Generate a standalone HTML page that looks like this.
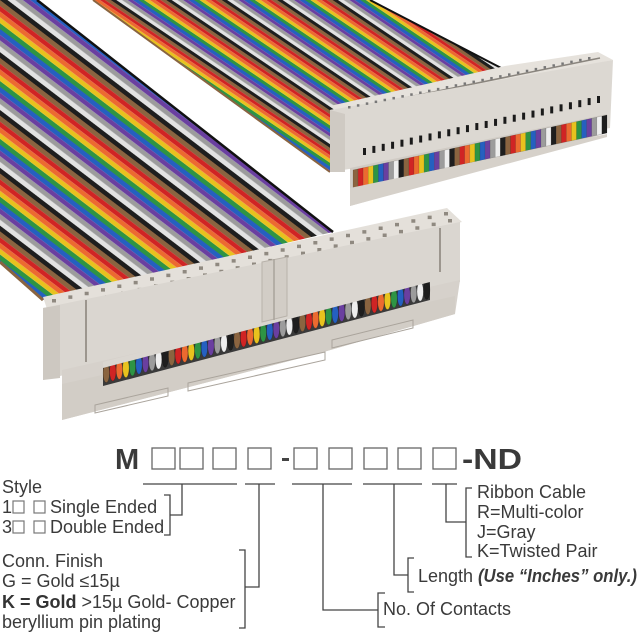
<!DOCTYPE html>
<html><head><meta charset="utf-8"><style>
html,body{margin:0;padding:0;background:#fff;}
svg{display:block;}
text{font-family:"Liberation Sans",Arial,sans-serif;fill:#3a3a3a;}
</style></head><body>
<svg width="640" height="640" viewBox="0 0 640 640" xmlns="http://www.w3.org/2000/svg">
<defs>
<pattern id="w1" patternUnits="userSpaceOnUse" width="46" height="400" patternTransform="rotate(-52.7)">
<rect x="0" y="0" width="4.6" height="400" fill="#1e1e1e"/>
<rect x="4.6" y="0" width="4.6" height="400" fill="#e2e2e2"/>
<rect x="9.2" y="0" width="4.6" height="400" fill="#9c9c9c"/>
<rect x="13.8" y="0" width="4.6" height="400" fill="#6a3fa0"/>
<rect x="18.4" y="0" width="4.6" height="400" fill="#2560c0"/>
<rect x="23" y="0" width="4.6" height="400" fill="#2e9444"/>
<rect x="27.6" y="0" width="4.6" height="400" fill="#e8c21e"/>
<rect x="32.2" y="0" width="4.6" height="400" fill="#ec6a30"/>
<rect x="36.8" y="0" width="4.6" height="400" fill="#d02424"/>
<rect x="41.4" y="0" width="4.6" height="400" fill="#8a6440"/>
</pattern>
<pattern id="w2" patternUnits="userSpaceOnUse" width="31" height="400" patternTransform="rotate(-56)">
<rect x="0" y="0" width="3.1" height="400" fill="#1e1e1e"/>
<rect x="3.1" y="0" width="3.1" height="400" fill="#e2e2e2"/>
<rect x="6.2" y="0" width="3.1" height="400" fill="#9c9c9c"/>
<rect x="9.3" y="0" width="3.1" height="400" fill="#6a3fa0"/>
<rect x="12.4" y="0" width="3.1" height="400" fill="#2560c0"/>
<rect x="15.5" y="0" width="3.1" height="400" fill="#2e9444"/>
<rect x="18.6" y="0" width="3.1" height="400" fill="#e8c21e"/>
<rect x="21.7" y="0" width="3.1" height="400" fill="#ec6a30"/>
<rect x="24.8" y="0" width="3.1" height="400" fill="#d02424"/>
<rect x="27.9" y="0" width="3.1" height="400" fill="#8a6440"/>
</pattern>
</defs>

<polygon points="93,0 370,0 505,70 330,110 330,172" fill="url(#w2)"/>
<line x1="370" y1="0" x2="505" y2="70" stroke="#111" stroke-width="2"/>
<line x1="93" y1="0" x2="330" y2="172" stroke="#8a6440" stroke-width="2"/>

<polygon points="330,106 505,66 598,52 613,60 345,114" fill="#e6e2dc"/>
<line x1="345" y1="110" x2="600" y2="58" stroke="#8a857e" stroke-width="1.5"/>
<polygon points="330,110 613,60 610,128 330,172" fill="#dcd8d2"/>
<polygon points="330,110 345,114 345,172 330,172" fill="#cfcac3"/>
<polygon points="350,168 607,114 607,133 350,206" fill="#d0cbc4"/>
<g id="rslots"></g>
<g id="rwires"></g>
<polygon points="350,188 607,134 607,137 350,206" fill="#d6d1ca"/>

<polygon points="0,0 37,0 333,232 43,300 0,262" fill="url(#w1)"/>
<line x1="37" y1="0" x2="333" y2="232" stroke="#111" stroke-width="2.5"/>
<line x1="0" y1="262" x2="43" y2="300" stroke="#8a6440" stroke-width="3"/>

<polygon points="43,297 447,208 462,222 48,312" fill="#e4e0da"/>
<g id="bholes"></g>
<polygon points="43,308 460,222 460,282 43,380" fill="#dad6d0"/>
<polygon points="43,308 60,305 60,378 43,380" fill="#cdc8c1"/>
<polygon points="62,370 460,280 455,314 320,353 62,420" fill="#d6d1cb"/>
<polygon points="62,384 455,296 455,314 320,353 62,420" fill="#d2cdc6"/>
<g id="bwires"></g>
<polygon points="103,362 430,277 430,282 103,368" fill="#dad6d0"/>
<polygon points="262,262 287,257 287,316 262,322" fill="#d2cdc6" stroke="#b8b2aa" stroke-width="1"/>
<line x1="274" y1="259" x2="274" y2="320" stroke="#a9a39b" stroke-width="1.5"/>
<line x1="86" y1="300" x2="86" y2="362" stroke="#9c968e" stroke-width="2"/>
<line x1="440" y1="228" x2="440" y2="272" stroke="#9c968e" stroke-width="2"/>
<polygon points="95,405 168,388 168,396 95,413" fill="none" stroke="#aaa49c" stroke-width="1"/>
<polygon points="188,383 325,352 325,360 188,391" fill="none" stroke="#aaa49c" stroke-width="1"/>
<polygon points="332,340 413,320 413,328 332,348" fill="none" stroke="#aaa49c" stroke-width="1"/>

<text x="115" y="469" font-size="29" font-weight="bold" fill="#333">M</text>
<g fill="none" stroke="#666" stroke-width="1.3">
<rect x="152" y="448" width="23" height="21"/><rect x="180" y="448" width="23" height="21"/>
<rect x="213" y="448" width="23" height="21"/><rect x="248" y="448" width="23" height="21"/>
<rect x="294" y="448" width="23" height="21"/><rect x="329" y="448" width="23" height="21"/>
<rect x="364" y="448" width="23" height="21"/><rect x="398" y="448" width="23" height="21"/>
<rect x="433" y="448" width="23" height="21"/>
</g>
<rect x="282" y="458" width="7" height="3" fill="#444"/>
<text x="462" y="469" font-size="29" font-weight="bold" textLength="60" lengthAdjust="spacingAndGlyphs" fill="#333">-ND</text>

<g stroke="#444" stroke-width="1.3" fill="none">
<line x1="143" y1="484" x2="237" y2="484"/>
<line x1="245" y1="484" x2="275" y2="484"/>
<line x1="292" y1="484" x2="352" y2="484"/>
<line x1="363" y1="484" x2="422" y2="484"/>
<line x1="432" y1="484" x2="457" y2="484"/>
<polyline points="164,495 170,495 170,535 164,535"/>
<polyline points="170,515 182,515 182,484"/>
<polyline points="239,550 245,550 245,628 239,628"/>
<polyline points="245,587 259,587 259,484"/>
<polyline points="323,484 323,610 378,610"/>
<polyline points="385,593 378,593 378,627 385,627"/>
<polyline points="394,484 394,575 408,575"/>
<polyline points="414,558 408,558 408,592 414,592"/>
<polyline points="446,484 446,522 466,522"/>
<polyline points="472,488 466,488 466,557 472,557"/>
</g>

<g font-size="18">
<text x="2" y="493">Style</text>
<text x="2" y="513">1</text>
<text x="50" y="513">Single Ended</text>
<text x="2" y="533">3</text>
<text x="50" y="533">Double Ended</text>
<text x="2" y="567">Conn. Finish</text>
<text x="2" y="587">G = Gold ≤15µ</text>
<text x="2" y="608"><tspan font-weight="bold" fill="#333">K = Gold</tspan> &gt;15µ Gold- Copper</text>
<text x="2" y="628">beryllium pin plating</text>
<text x="477" y="498">Ribbon Cable</text>
<text x="477" y="518">R=Multi-color</text>
<text x="477" y="538">J=Gray</text>
<text x="477" y="557">K=Twisted Pair</text>
<text x="418" y="582">Length</text>
<text x="478" y="582" font-weight="bold" font-style="italic" textLength="159" lengthAdjust="spacingAndGlyphs">(Use “Inches” only.)</text>
<text x="383" y="615">No. Of Contacts</text>
</g>
<g fill="none" stroke="#777" stroke-width="1.2">
<rect x="13" y="501" width="11" height="12"/><rect x="34" y="501" width="11" height="12"/>
<rect x="13" y="521" width="11" height="12"/><rect x="34" y="521" width="11" height="12"/>
</g>
</svg>
<script>
(function(){
var NS="http://www.w3.org/2000/svg";
var cols=["#8a6440","#d02424","#ec6a30","#e8c21e","#2e9444","#2560c0","#6a3fa0","#9c9c9c","#eeeeee","#1e1e1e"];
function el(p,t,a){var e=document.createElementNS(NS,t);for(var k in a)e.setAttribute(k,a[k]);p.appendChild(e);return e;}
var g=document.getElementById("rslots");
for(var i=0;i<26;i++){var t=i/25;var x=363+t*234,y=152-t*52;el(g,"rect",{x:x,y:y-4,width:3,height:7,fill:"#1a1a1a"});}
for(var i=0;i<28;i++){var t=i/27;el(g,"rect",{x:348+t*240,y:106-t*49,width:2.5,height:2.5,fill:"#777"});}
var rw=document.getElementById("rwires");
for(var i=0;i<50;i++){var t0=i/50,t1=(i+1)/50;var x0=353+t0*254,x1=353+t1*254;
var y0=170-t0*55,y1=170-t1*55;
el(rw,"polygon",{points:x0+","+y0+" "+x1+","+y1+" "+x1+","+(y1+18)+" "+x0+","+(y0+18),fill:cols[i%10],stroke:"rgba(0,0,0,0.25)","stroke-width":"0.4"});}
var bh=document.getElementById("bholes");
for(var r=0;r<2;r++){for(var i=0;i<25;i++){var t=i/24;var x=52+r*4+t*392,y=(r==0?301:308)-t*87;
el(bh,"rect",{x:x,y:y-2,width:4,height:3.5,fill:"#8f8980"});}}
var bw=document.getElementById("bwires");
el(bw,"polygon",{points:"103,364 430,280 430,300 103,386",fill:"#3a3a3a"});
for(var i=0;i<50;i++){var t=(i+0.5)/50;var x=103+t*327,y=374-t*85;
el(bw,"ellipse",{cx:x,cy:y,rx:3.2,ry:9.5,fill:cols[i%10],stroke:"rgba(0,0,0,0.3)","stroke-width":"0.5"});}
})();
</script>
</body></html>
